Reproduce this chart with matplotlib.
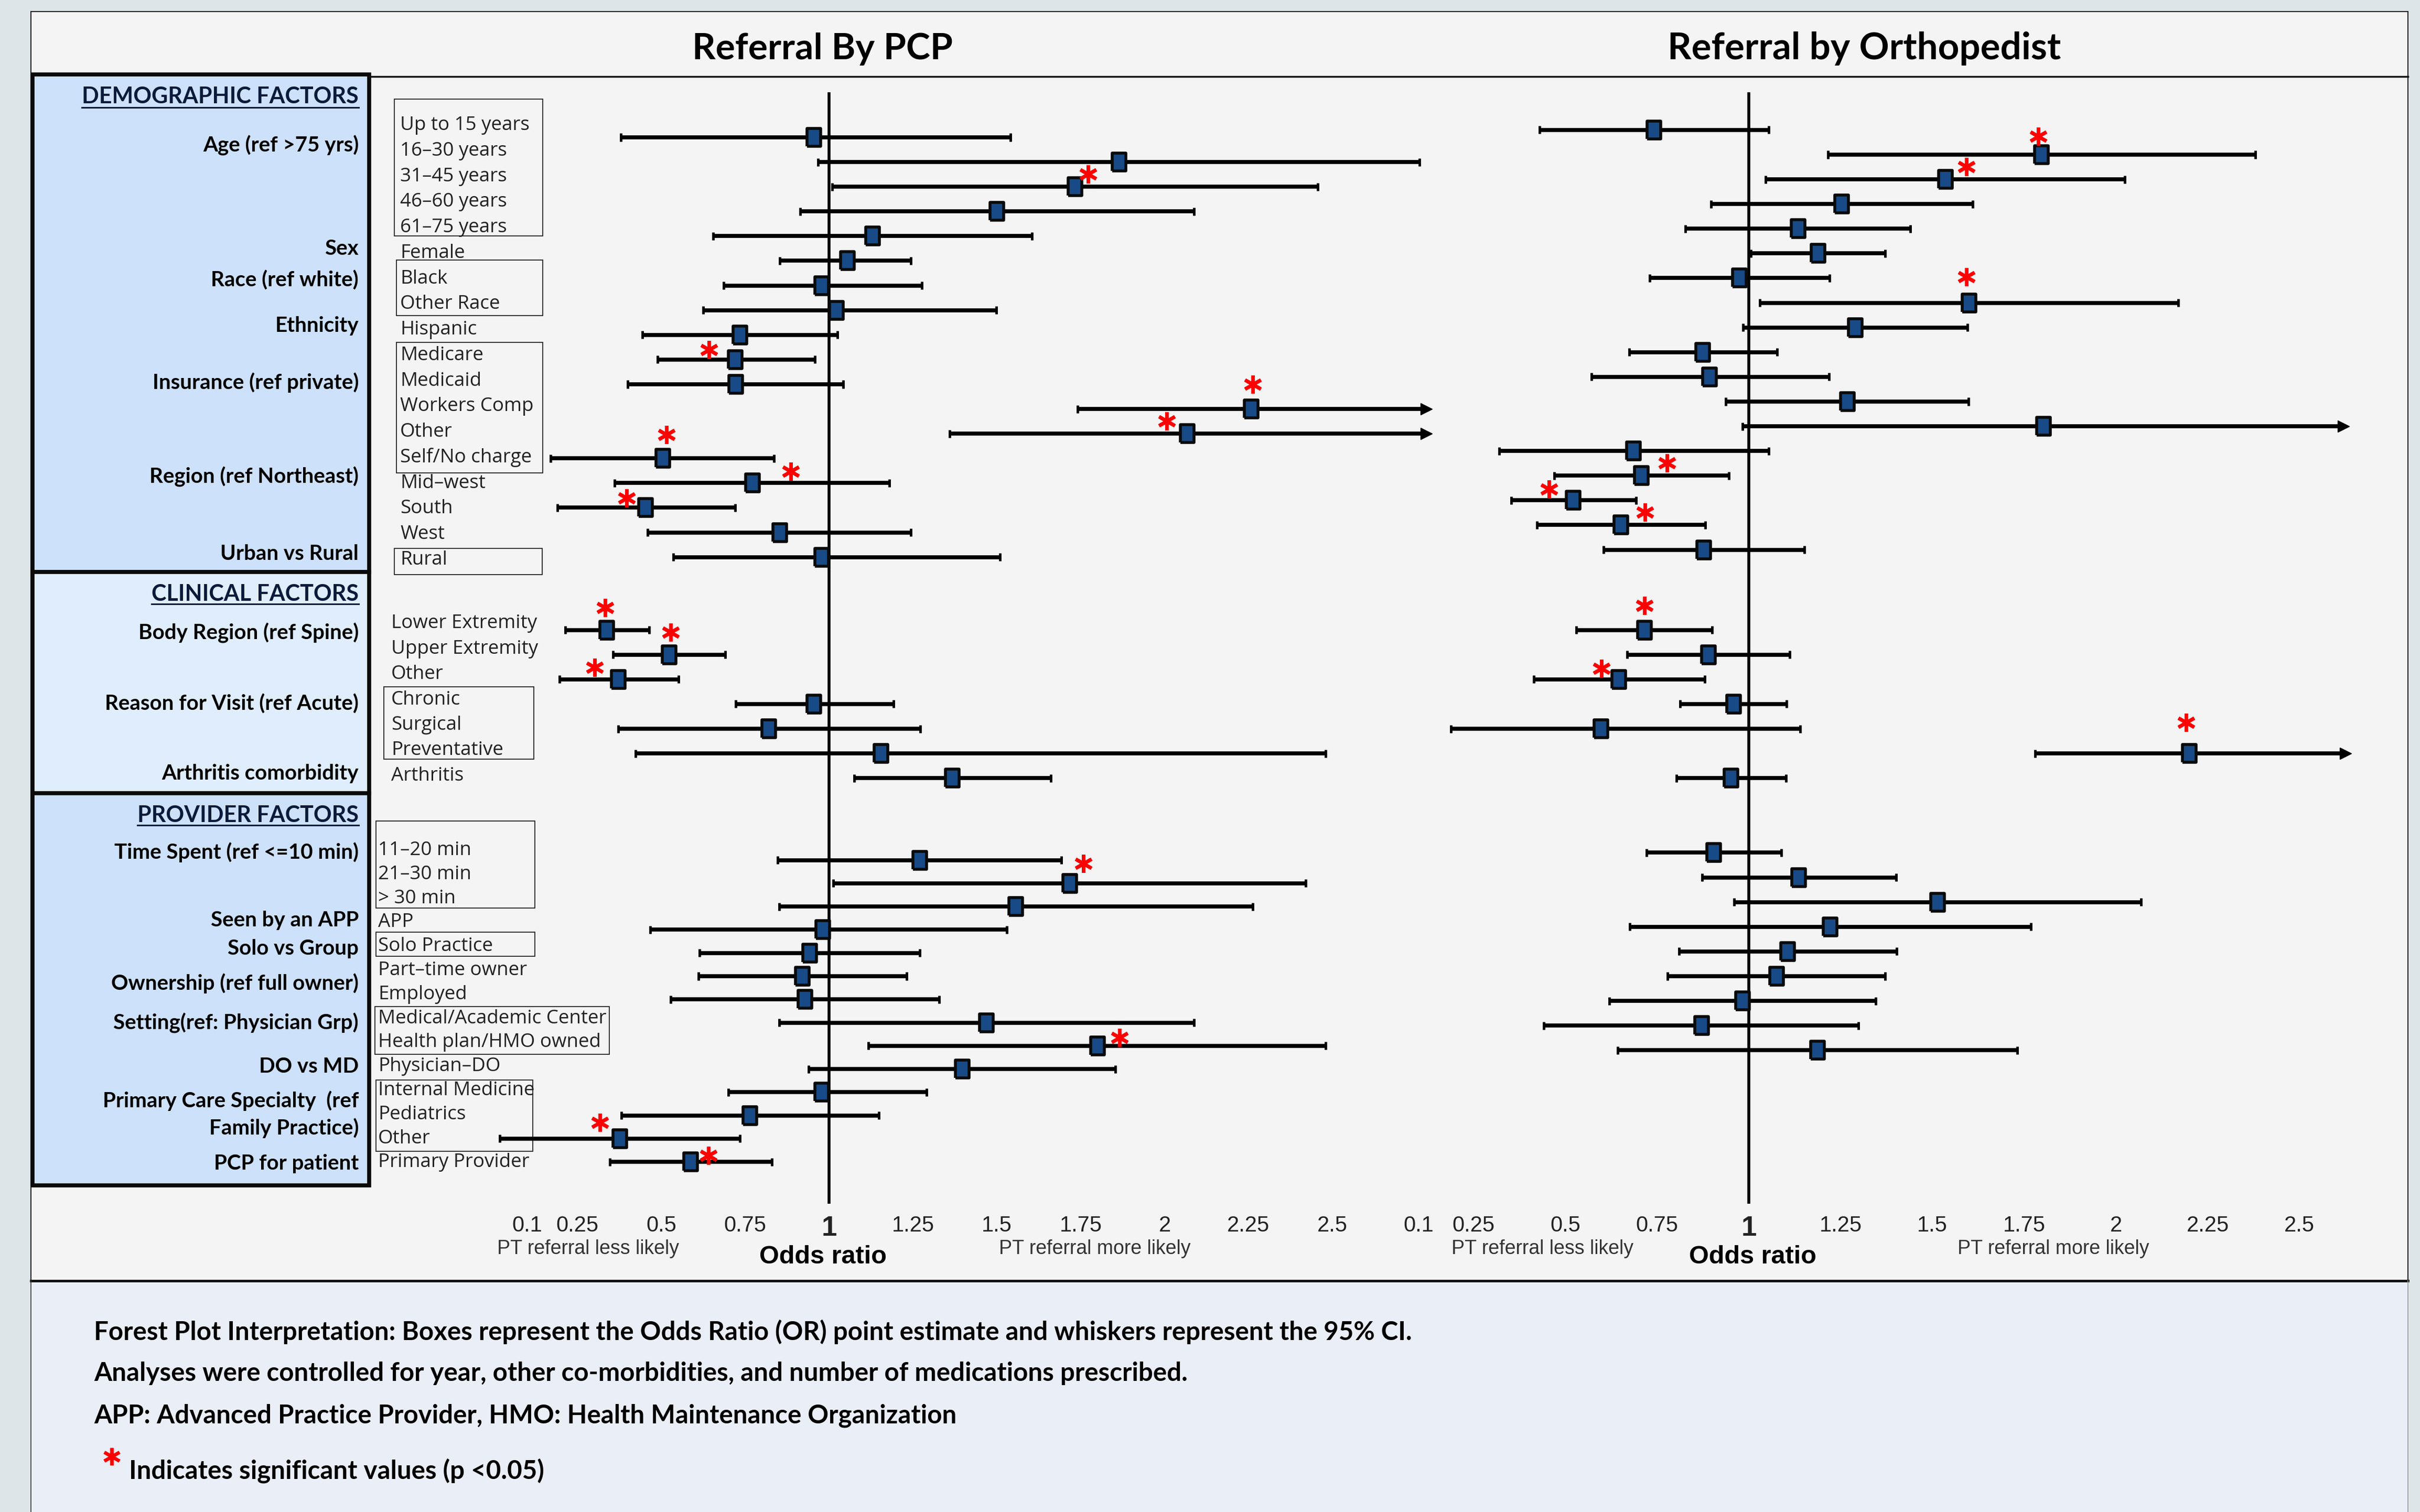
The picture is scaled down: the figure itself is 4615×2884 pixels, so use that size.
import numpy as np
import matplotlib.pyplot as plt
from matplotlib.patches import Rectangle
from matplotlib.transforms import offset_copy

W, H = 4615, 2884

# ---------------- data ----------------
row_labels = [
    "Up to 15 years", "16\u201330 years", "31\u201345 years", "46\u201360 years", "61\u201375 years",
    "Female", "Black", "Other Race", "Hispanic",
    "Medicare", "Medicaid", "Workers Comp", "Other", "Self/No charge",
    "Mid\u2013west", "South", "West", "Rural",
    "Lower Extremity", "Upper Extremity", "Other",
    "Chronic", "Surgical", "Preventative", "Arthritis",
    "11\u201320 min", "21\u201330 min", "> 30 min", "APP", "Solo Practice",
    "Part\u2013time owner", "Employed", "Medical/Academic Center", "Health plan/HMO owned",
    "Physician\u2013DO", "Internal Medicine", "Pediatrics", "Other", "Primary Provider",
]

# Referral by PCP (39 rows)
or_pcp = [0.955, 1.864, 1.733, 1.50, 1.13, 1.055, 0.978, 1.022, 0.734, 0.72, 0.722, 2.258, 2.067,
          0.505, 0.772, 0.453, 0.853, 0.978,
          0.337, 0.523, 0.372, 0.955, 0.82, 1.155, 1.367,
          1.27, 1.717, 1.556, 0.981, 0.942, 0.92, 0.928, 1.469, 1.80, 1.397, 0.978, 0.764, 0.377, 0.587]
lo_pcp = [0.380, 0.967, 1.01, 0.914, 0.655, 0.853, 0.686, 0.625, 0.444, 0.489, 0.40, 1.74, 1.36,
          0.17, 0.361, 0.19, 0.46, 0.536,
          0.214, 0.356, 0.197, 0.722, 0.372, 0.423, 1.075,
          0.847, 1.013, 0.852, 0.467, 0.614, 0.611, 0.528, 0.852, 1.117, 0.939, 0.70, 0.381, 0.019, 0.347]
hi_pcp = [1.54, 2.76, 2.456, 2.087, 1.605, 1.244, 1.276, 1.498, 1.025, 0.958, 1.042, 2.78, 2.78,
          0.836, 1.18, 0.72, 1.244, 1.51,
          0.464, 0.69, 0.552, 1.192, 1.272, 2.48, 1.661,
          1.692, 2.42, 2.262, 1.53, 1.27, 1.231, 1.328, 2.087, 2.48, 1.853, 1.29, 1.148, 0.734, 0.83]
sig_pcp = [0, 0, 1, 0, 0, 0, 0, 0, 0, 1, 0, 1, 1, 1, 1, 1, 0, 0,
           1, 1, 1, 0, 0, 0, 0,
           0, 1, 0, 0, 0, 0, 0, 0, 1, 0, 0, 0, 1, 1]
open_pcp = [0] * 11 + [1, 1] + [0] * 26

# Referral by Orthopedist (34 rows)
or_ort = [0.741, 1.797, 1.536, 1.253, 1.134, 1.189, 0.974, 1.60, 1.29, 0.874, 0.893, 1.268, 1.803,
          0.686, 0.707, 0.521, 0.651, 0.877,
          0.716, 0.89, 0.646, 0.959, 0.597, 2.20, 0.951,
          0.904, 1.136, 1.514, 1.221, 1.106, 1.075, 0.983, 0.871, 1.187]
lo_ort = [0.43, 1.216, 1.046, 0.897, 0.827, 1.006, 0.73, 1.03, 0.984, 0.674, 0.571, 0.937, 0.983,
          0.32, 0.47, 0.353, 0.423, 0.604,
          0.53, 0.669, 0.414, 0.813, 0.189, 1.78, 0.803,
          0.721, 0.873, 0.96, 0.676, 0.81, 0.779, 0.62, 0.441, 0.643]
hi_ort = [1.054, 2.38, 2.024, 1.61, 1.44, 1.371, 1.22, 2.17, 1.596, 1.077, 1.218, 1.598, 2.62,
          1.054, 0.946, 0.693, 0.881, 1.151,
          0.90, 1.111, 0.88, 1.103, 1.14, 2.626, 1.101,
          1.089, 1.401, 2.069, 1.769, 1.403, 1.371, 1.346, 1.299, 1.731]
sig_ort = [0, 1, 1, 0, 0, 0, 0, 1, 0, 0, 0, 0, 0, 0, 1, 1, 1, 0,
           1, 0, 1, 0, 0, 1, 0,
           0, 0, 0, 0, 0, 0, 0, 0, 0]
open_ort = [0] * 12 + [1] + [0] * 10 + [1] + [0] * 10

tick_vals = [0.1, 0.25, 0.5, 0.75, 1, 1.25, 1.5, 1.75, 2, 2.25, 2.5]
tick_labels = ["0.1", "0.25", "0.5", "0.75", "1", "1.25", "1.5", "1.75", "2", "2.25", "2.5"]

factor_names = ["Age (ref >75 yrs)", "Sex", "Race (ref white)", "Ethnicity", "Insurance (ref private)",
                "Region (ref Northeast)", "Urban vs Rural",
                "Body Region (ref Spine)", "Reason for Visit (ref Acute)", "Arthritis comorbidity",
                "Time Spent (ref <=10 min)", "Seen by an APP", "Solo vs Group",
                "Ownership (ref full owner)", "Setting(ref: Physician Grp)", "DO vs MD",
                "Primary Care Specialty  (ref", "Family Practice)", "PCP for patient"]
section_names = ["DEMOGRAPHIC FACTORS", "CLINICAL FACTORS", "PROVIDER FACTORS"]
panel_titles = ["Referral By PCP", "Referral by Orthopedist"]
notes = ["Forest Plot Interpretation: Boxes represent the Odds Ratio (OR) point estimate and whiskers represent the 95% CI.",
         "Analyses were controlled for year, other co-morbidities, and number of medications prescribed.",
         "APP: Advanced Practice Provider, HMO: Health Maintenance Organization"]

# ---------------- layout (pixels of the 4615x2884 canvas) ----------------
ROW0, ROWPX = 262, 47.1          # pixel y of first row, pixels per row unit
def rows(start, step, n):
    return start + step * np.arange(n)

y_pcp = np.concatenate([rows(0, 1, 18), rows(19.95, 1, 7), rows(29.27, 0.94, 14)])
y_ort = np.concatenate([rows(-0.3, 1, 18), rows(19.95, 1, 7), rows(28.97, 1, 9)])

star_pcp = {2: (25, -24), 9: (-50, -19), 11: (3, -47), 12: (-39, -24), 13: (7, -45), 14: (73, -22),
            15: (-36, -18), 18: (-3, -43), 19: (3, -43), 20: (-45, -23), 26: (26, -38), 33: (42, -16),
            37: (-38, -31), 38: (34, -12)}
star_ort = {1: (-6, -35), 2: (40, -24), 7: (-5, -50), 14: (49, -24), 15: (-46, -21), 16: (46, -24),
            18: (0, -47), 20: (-33, -21), 23: (-6, -59)}

label_y = np.concatenate([rows(239, 48.76, 18), rows(1189, 48.5, 7), rows(1622, 45.8, 14)])
label_x = [763] * 18 + [746] * 7 + [721] * 14
label_boxes = [(752, 189, 1035, 450), (756, 496, 1035, 602), (756, 653, 1035, 902), (752, 1046, 1034, 1096),
               (732, 1310, 1018, 1448), (717, 1566, 1020, 1732), (717, 1778, 1020, 1824),
               (715, 1920, 1162, 2011), (717, 2060, 1016, 2196)]
factor_y = [277, 474, 535, 621, 730, 909, 1056, 1207, 1343, 1475,
            1626, 1755, 1809, 1876, 1951, 2035, 2100, 2152, 2219]
section_y = [184, 1133, 1555]
section_ul = [205, 1152, 1574]
section_box = [(142, 1091, "#cde1fa"), (1091, 1513, "#dfedfc"), (1513, 2261, "#cde1fa")]

BOLD = ["Lato", "DejaVu Sans"]
NARROW = ["Liberation Sans Narrow", "Liberation Sans", "DejaVu Sans"]
plt.rcParams["font.family"] = ["Open Sans", "DejaVu Sans"]

fig = plt.figure(figsize=(W / 100, H / 100), dpi=100, facecolor="#dee5e8")

bg = fig.add_axes([0, 0, 1, 1], zorder=0)
bg.set_xlim(0, W)
bg.set_ylim(H, 0)
bg.axis("off")

# panel backgrounds
bg.add_patch(Rectangle((59, 22), 4533, 2421, fc="#f4f4f4", ec="#1a1a1a", lw=1.5))
bg.add_patch(Rectangle((59, 2443), 4533, 441, fc="#eaeef6", ec="none"))
bg.plot([59, 4592], [2443, 2443], color="#111111", lw=3.5)
bg.plot([704, 4592], [146, 146], color="#111111", lw=2.5)
bg.plot([59, 59], [2443, H], color="#333333", lw=1.2)
bg.plot([4592, 4592], [2443, H], color="#999999", lw=1.2)

for (y0, y1, c) in section_box:
    bg.add_patch(Rectangle((62, y0), 642, y1 - y0, fc=c, ec="#0a0a0a", lw=5.5))

for (x0, y0, x1, y1) in label_boxes:
    bg.add_patch(Rectangle((x0, y0), x1 - x0, y1 - y0, fc="none", ec="#222222", lw=1.3))

for txt, x, y in zip(row_labels, label_x, label_y):
    bg.text(x, y, txt, fontsize=26.5, color="#222222", ha="left", va="center")

for txt, y in zip(factor_names, factor_y):
    bg.text(684, y, txt, fontsize=29, fontweight="bold", family=BOLD, ha="right", va="center")

sec_txt = []
for txt, y in zip(section_names, section_y):
    sec_txt.append(bg.text(684, y, txt, fontsize=31, fontweight="bold", family=BOLD,
                           color="#0a1a3a", ha="right", va="center"))

bg.text(1569, 113, panel_titles[0], fontsize=50, fontweight="bold", family=BOLD, ha="center", va="baseline")
bg.text(3555, 113, panel_titles[1], fontsize=51, fontweight="bold", family=BOLD, ha="center", va="baseline")

for cx, side in [(1121, "less"), (2088, "more"), (2941, "less"), (3916, "more")]:
    bg.text(cx, 2382, "PT referral %s likely" % side, fontsize=27, family=NARROW,
            color="#333333", ha="center", va="center")
for cx in [1569, 3342]:
    bg.text(cx, 2397, "Odds ratio", fontsize=35, fontweight="bold", family=["Liberation Sans", "DejaVu Sans"],
            ha="center", va="center")

for txt, y in zip(notes, [2540, 2620, 2700]):
    bg.text(179, y, txt, fontsize=35.5, fontweight="bold", family=BOLD, ha="left", va="center")
bg.plot(213, 2778, marker=(6, 2, 0), ms=24, mew=4.5, color="#ff0000")
bg.text(246, 2805, "Indicates significant values (p <0.05)", fontsize=35.5, fontweight="bold",
        family=BOLD, ha="left", va="center")

box_marker = [(-0.4, -0.5), (0.4, -0.5), (0.4, 0.5), (-0.4, 0.5), (-0.4, -0.5)]


def px_axes(or0_px, px_per_unit, xmax):
    x0 = or0_px - px_per_unit
    x1 = x0 + xmax * px_per_unit
    ytop, ybot = 176, 2296
    ax = fig.add_axes([x0 / W, 1 - ybot / H, (x1 - x0) / W, (ybot - ytop) / H], zorder=2)
    ax.set_xlim(0, xmax)
    ax.set_ylim((ybot - ROW0) / ROWPX, (ytop - ROW0) / ROWPX)
    ax.patch.set_alpha(0)
    for s in ax.spines.values():
        s.set_visible(False)
    ax.set_yticks([])
    ax.set_xticks(tick_vals)
    ax.set_xticklabels(tick_labels, family=NARROW, fontsize=30, color="#222222")
    ax.tick_params(axis="x", length=0, pad=16)
    one = ax.get_xticklabels()[tick_vals.index(1)]
    one.set_fontsize(38)
    one.set_fontweight("bold")
    ax.axvline(1, color="black", lw=4, zorder=1)
    return ax


def forest(ax, yy, est, lo, hi, sig, opn, nudges):
    est, lo, hi = map(np.asarray, (est, lo, hi))
    closed = ~np.asarray(opn, bool)
    ax.hlines(yy, lo, hi, color="black", lw=5.5, zorder=2)
    ax.vlines(lo, yy - 0.16, yy + 0.16, color="black", lw=3.5, zorder=2)
    ax.vlines(hi[closed], yy[closed] - 0.16, yy[closed] + 0.16, color="black", lw=3.5, zorder=2)
    ax.plot(hi[~closed], yy[~closed], ls="none", marker=">", ms=16, color="black", zorder=2, clip_on=False)
    ax.plot(est, yy, ls="none", marker=box_marker, ms=24, mfc="#174a86", mec="#0a0a0a", mew=4, zorder=4)
    for i in np.flatnonzero(sig):
        dx, dy = nudges[i]
        tr = offset_copy(ax.transData, fig=fig, x=dx, y=-dy, units="dots")
        ax.plot(est[i], yy[i], marker=(6, 2, 0), ms=25, mew=4.8, color="#ff0000",
                transform=tr, zorder=5, clip_on=False)


ax_l = px_axes(1581, 640, 2.85)
forest(ax_l, y_pcp, or_pcp, lo_pcp, hi_pcp, sig_pcp, open_pcp, star_pcp)
ax_r = px_axes(3335, 700, 2.7)
forest(ax_r, y_ort, or_ort, lo_ort, hi_ort, sig_ort, open_ort, star_ort)

# underline section headers
fig.canvas.draw()
for t, yu in zip(sec_txt, section_ul):
    bb = t.get_window_extent()
    bg.plot([bb.x0, bb.x1], [yu, yu], color="#0a1a3a", lw=2.2)

fig.savefig("out.png", dpi=100, facecolor=fig.get_facecolor())
